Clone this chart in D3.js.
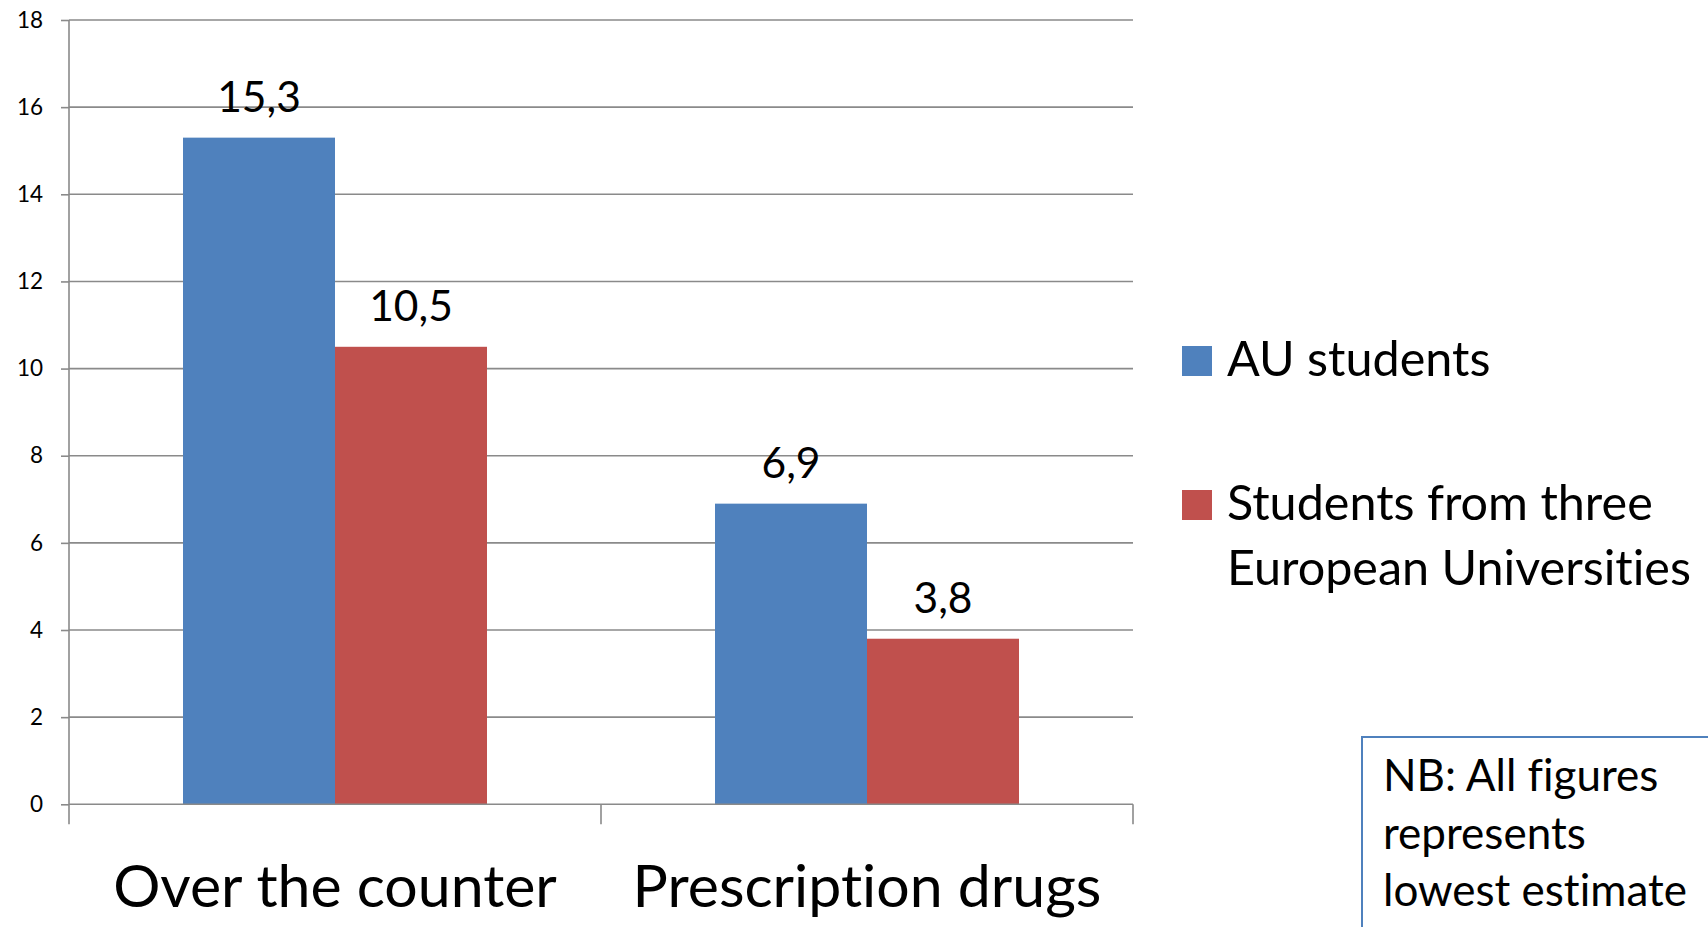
<!DOCTYPE html>
<html>
<head>
<meta charset="utf-8">
<script src="https://cdn.jsdelivr.net/npm/d3@7"></script>
<style>
  html, body { margin: 0; padding: 0; background: #fff; }
  svg { display: block; }
  text { font-family: Lato, "Open Sans", sans-serif; fill: #000; font-variant-ligatures: none; font-feature-settings: "liga" 0, "clig" 0; }
</style>
</head>
<body>
<svg id="chart" width="1708" height="927"></svg>
<script>
// ---- data ----
const categories = ["Over the counter", "Prescription drugs"];
const seriesNames = ["AU students", "Students from three European Universities"];
const auValues = [15.3, 6.9];
const europeValues = [10.5, 3.8];
const valueLabels = [["15,3", "6,9"], ["10,5", "3,8"]];
const yTicks = [0, 2, 4, 6, 8, 10, 12, 14, 16, 18];
const legendLines = [["AU students"], ["Students from three", "European Universities"]];
const noteLines = ["NB: All figures", "represents", "lowest estimate"];
const colors = ["#4F81BD", "#C0504D"];

const seriesValues = [auValues, europeValues];

const svg = d3.select("#chart");
const plot = { left: 69, right: 1133, top: 20, bottom: 804.3 };
const gridColor = "#8a8a8a";

const y = d3.scaleLinear().domain([0, 18]).range([plot.bottom, plot.top]);
const x0 = d3.scaleBand().domain(categories).range([plot.left, plot.right]).paddingInner(0).paddingOuter(0);
const x1 = d3.scaleBand().domain(d3.range(seriesNames.length)).range([0, x0.bandwidth()]).paddingInner(0).paddingOuter(0.75);

// gridlines
svg.append("g").selectAll("line").data(yTicks.filter(d => d > 0)).join("line")
  .attr("x1", plot.left).attr("x2", plot.right)
  .attr("y1", d => y(d)).attr("y2", d => y(d))
  .attr("stroke", gridColor).attr("stroke-width", 1.6);

// bars
const barG = svg.append("g");
seriesValues.forEach((vals, si) => {
  barG.selectAll(null).data(categories).join("rect")
    .attr("x", (c) => x0(c) + x1(si))
    .attr("width", x1.bandwidth())
    .attr("y", (c, ci) => y(vals[ci]))
    .attr("height", (c, ci) => y(0) - y(vals[ci]))
    .attr("fill", colors[si]);
  barG.selectAll(null).data(categories).join("text")
    .attr("x", (c) => x0(c) + x1(si) + x1.bandwidth() / 2)
    .attr("y", (c, ci) => y(vals[ci]) - 26)
    .attr("text-anchor", "middle")
    .attr("font-size", 42.5)
    .text((c, ci) => valueLabels[si][ci]);
});

// y axis
const yAxis = d3.axisLeft(y).tickValues(yTicks).tickSize(8).tickPadding(18).tickFormat(d3.format("d"));
const yg = svg.append("g").attr("transform", `translate(${plot.left},0)`).call(yAxis);
yg.select(".domain").attr("stroke", gridColor).attr("stroke-width", 1.6).attr("d", `M0,${plot.top}V${plot.bottom}`);
yg.selectAll(".tick line").attr("stroke", gridColor).attr("stroke-width", 1.6);
yg.selectAll(".tick text").attr("font-size", 22.5).attr("font-family", "Lato, sans-serif").attr("fill", "#000");

// x axis
const xg = svg.append("g").attr("transform", `translate(0,${plot.bottom})`);
xg.append("line").attr("x1", plot.left).attr("x2", plot.right).attr("y1", 0).attr("y2", 0)
  .attr("stroke", gridColor).attr("stroke-width", 1.6);
const boundaries = [plot.left].concat(categories.map(c => x0(c) + x0.bandwidth()));
xg.selectAll("line.tk").data(boundaries).join("line").attr("class", "tk")
  .attr("x1", d => d).attr("x2", d => d).attr("y1", 0).attr("y2", 20)
  .attr("stroke", gridColor).attr("stroke-width", 1.6);
xg.selectAll("text.cat").data(categories).join("text").attr("class", "cat")
  .attr("x", c => x0(c) + x0.bandwidth() / 2)
  .attr("y", 103)
  .attr("text-anchor", "middle")
  .attr("font-size", 59)
  .text(c => c);

// legend
const legend = svg.append("g").attr("transform", "translate(1182,0)");
const legendTops = [346, 490];
legendLines.forEach((lines, i) => {
  legend.append("rect").attr("x", 0).attr("y", legendTops[i]).attr("width", 30).attr("height", 30).attr("fill", colors[i]);
  lines.forEach((ln, j) => {
    legend.append("text").attr("x", 45).attr("y", legendTops[i] + 30 + j * 65)
      .attr("font-size", 48.5).text(ln);
  });
});

// note box
const note = svg.append("g");
note.append("rect").attr("x", 1362).attr("y", 737).attr("width", 400).attr("height", 250)
  .attr("fill", "#fff").attr("stroke", "#4F81BD").attr("stroke-width", 2);
noteLines.forEach((ln, j) => {
  note.append("text").attr("x", 1383).attr("y", 791 + j * 57.5).attr("font-size", 44).text(ln);
});
</script>
</body>
</html>
